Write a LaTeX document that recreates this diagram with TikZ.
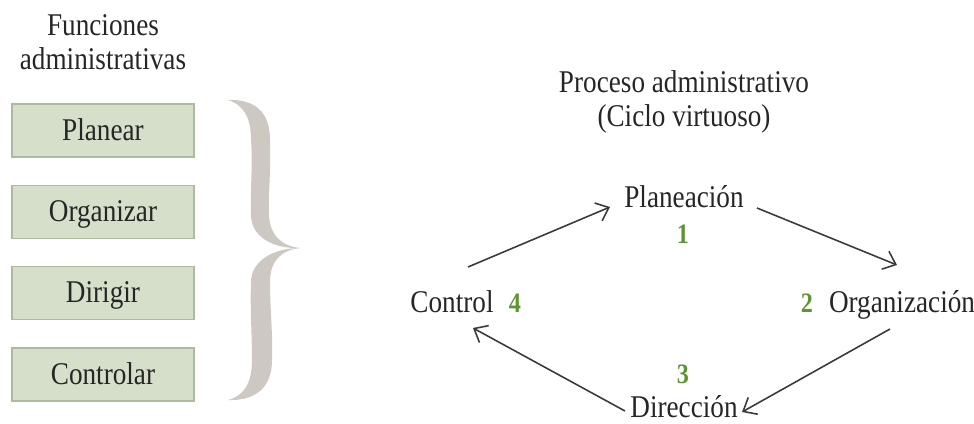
\documentclass[tikz,border=0pt]{standalone}
\usepackage{fontspec}
\setmainfont{Liberation Serif}[FakeStretch=0.86]
\usetikzlibrary{arrows.meta}
\definecolor{txt}{HTML}{262626}
\definecolor{boxfill}{HTML}{D5DFCA}
\definecolor{boxline}{HTML}{ADBA9E}
\definecolor{bracecol}{HTML}{CDC8C2}
\definecolor{numgreen}{HTML}{5F9434}
\definecolor{arrcol}{HTML}{3A3A3A}
\tikzset{
  lbl/.style={font=\fontsize{18}{20}\selectfont, text=txt, inner sep=0pt, anchor=base},
  fbox/.style={draw=boxline, line width=0.6pt, fill=boxfill, minimum width=3.64cm, minimum height=1.06cm,
     font=\fontsize{18}{20}\selectfont, text=txt, text height=13pt, text depth=2pt},
  num/.style={font=\fontsize{16}{20}\selectfont\bfseries, text=numgreen, inner sep=0pt, anchor=base},
  arr/.style={draw=arrcol, line width=0.9pt, -{Straight Barb[length=6.5pt,width=11pt,line width=0.9pt]}}
}
\begin{document}
\begin{tikzpicture}[x=0.02cm,y=-0.02cm]
\useasboundingbox (0,0) rectangle (974,423);
% left column
\node[lbl] (fun1) at (103,35) {Funciones};
\node[lbl] (fun2) at (103,69) {administrativas};
\node[fbox] (b1) at (103,130.5) {Planear};
\node[fbox] (b2) at (103,212) {Organizar};
\node[fbox] (b3) at (103,293) {Dirigir};
\node[fbox] (b4) at (103,374.5) {Controlar};
% brace
\fill[bracecol] (228,100) .. controls (255,99) and (270,112) .. (270,140)
  .. controls (271,175) and (268,195) .. (269,215)
  .. controls (270,236) and (282,246) .. (300,248)
  .. controls (272,249) and (251,236) .. (251,215)
  .. controls (250,190) and (253,165) .. (251,140)
  .. controls (251,118) and (244,105) .. (228,100) -- cycle;
\fill[bracecol] (300,248) .. controls (282,250) and (270,260) .. (270,282)
  .. controls (270,310) and (273,335) .. (272,360)
  .. controls (272,388) and (255,401) .. (228,400)
  .. controls (244,396) and (252,383) .. (252,360)
  .. controls (252,335) and (250,310) .. (251,282)
  .. controls (251,262) and (272,248) .. (300,248) -- cycle;
% right diagram
\node[lbl] (tit1) at (684,92) {Proceso administrativo};
\node[lbl] (tit2) at (684,126) {(Ciclo virtuoso)};
\node[lbl] (plan) at (684,207) {Planeación};
\node[num] (n1) at (683,243) {1};
\node[lbl] (ctrl) at (452,312) {Control};
\node[num] (n4) at (515,312) {4};
\node[num] (n2) at (807,312) {2};
\node[lbl] (org) at (902,312) {Organización};
\node[num] (n3) at (683,383) {3};
\node[lbl] (dir) at (684,417) {Dirección};
% arrows
\draw[arr] ([shift={(16,-45)}]ctrl.base) -- ([shift={(-74,0)}]plan.base);
\draw[arr] ([shift={(73,1)}]plan.base) -- ([shift={(-5,-47)}]org.base);
\draw[arr] ([shift={(-12,17)}]org.base) -- ([shift={(58,-5)}]dir.base);
\draw[arr] ([shift={(-59,-6)}]dir.base) -- ([shift={(21,16)}]ctrl.base);
\end{tikzpicture}
\end{document}
